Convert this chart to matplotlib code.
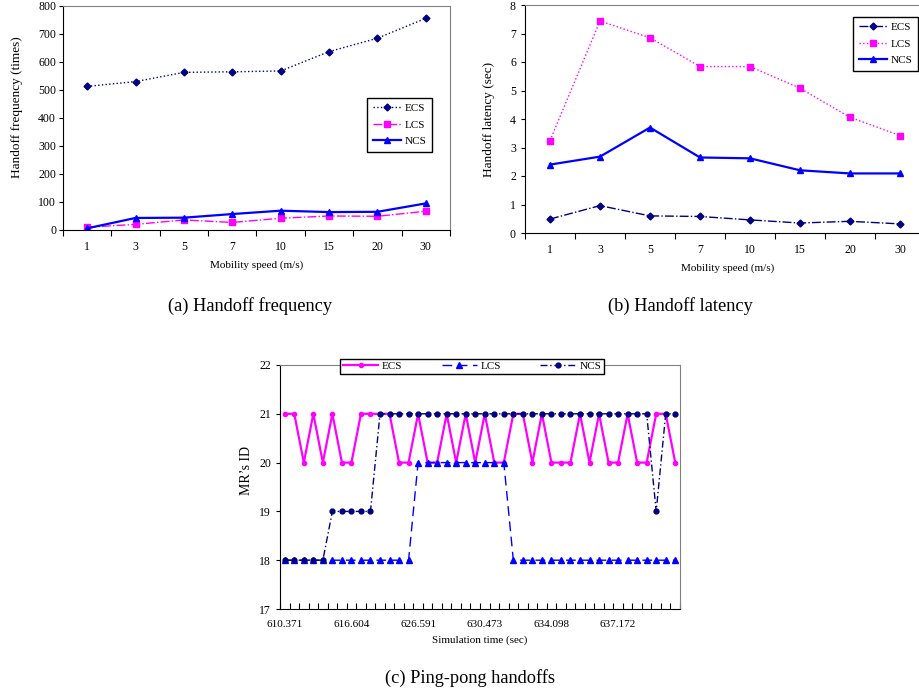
import matplotlib
matplotlib.use('Agg')
import matplotlib.pyplot as plt
import numpy as np

plt.rcParams['font.family'] = 'Liberation Serif'
plt.rcParams['axes.linewidth'] = 0.8

# ---- data ----
speeds = ['1', '3', '5', '7', '10', '15', '20', '30']

freq_ecs = [513, 530, 563, 565, 568, 637, 685, 756]
freq_lcs = [10, 20, 36, 27, 42, 50, 49, 67]
freq_ncs = [6, 43, 44, 57, 69, 64, 65, 95]

lat_ecs = [0.49, 0.96, 0.60, 0.58, 0.46, 0.35, 0.41, 0.32]
lat_lcs = [3.24, 7.44, 6.85, 5.84, 5.84, 5.08, 4.06, 3.42]
lat_ncs = [2.40, 2.68, 3.70, 2.65, 2.62, 2.20, 2.09, 2.09]

time_labels = ['610.371', '616.604', '626.591', '630.473', '634.098', '637.172']
pp_ecs = [21, 21, 20, 21, 20, 21, 20, 20, 21, 21, 21, 21, 20, 20,
          21, 20, 20, 21, 20, 21, 20, 21, 20, 20, 21, 21, 20, 21,
          20, 20, 20, 21, 20, 21, 20, 20, 21, 20, 20, 21, 21, 20]
pp_lcs = [18, 18, 18, 18, 18, 18, 18, 18, 18, 18, 18, 18, 18, 18,
          20, 20, 20, 20, 20, 20, 20, 20, 20, 20, 18, 18, 18, 18,
          18, 18, 18, 18, 18, 18, 18, 18, 18, 18, 18, 18, 18, 18]
pp_ncs = [18, 18, 18, 18, 18, 19, 19, 19, 19, 19, 21, 21, 21, 21,
          21, 21, 21, 21, 21, 21, 21, 21, 21, 21, 21, 21, 21, 21,
          21, 21, 21, 21, 21, 21, 21, 21, 21, 21, 21, 19, 21, 21]

NAVY = '#000080'
MAG = '#FF00FF'
BLUE = '#0000FF'
W, H = 920, 695

fig = plt.figure(figsize=(9.2, 6.95), dpi=100)


def box(l, t, r, b):
    return [l / W, 1 - b / H, (r - l) / W, (b - t) / H]


def cat_axis(ax, n, labels, label_pos):
    ax.set_xlim(-0.5, n - 0.5)
    ax.set_xticks(label_pos)
    ax.set_xticklabels(labels)
    ax.set_xticks(np.arange(-0.5, n, 1.0), minor=True)
    ax.tick_params(axis='x', which='major', length=0, pad=8)
    ax.tick_params(axis='x', which='minor', length=4, direction='out', width=0.8)
    ax.tick_params(axis='y', length=3, direction='out', width=0.8)
    for s in ['top', 'right']:
        ax.spines[s].set_color('#808080')


leg_kw = dict(frameon=True, fancybox=False, edgecolor='black', framealpha=1,
              borderaxespad=0, handletextpad=0.3, bbox_transform=fig.transFigure)

# (a) handoff frequency
ax1 = fig.add_axes(box(63, 6, 450, 230))
x = np.arange(len(speeds))
ax1.plot(x, freq_ecs, color=NAVY, ls=':', lw=1, marker='D', ms=3.5, label='ECS')
ax1.plot(x, freq_lcs, color=MAG, ls='-.', lw=1, marker='s', ms=4, label='LCS')
ax1.plot(x, freq_ncs, color=BLUE, ls='-', lw=1.6, marker='^', ms=4.5, label='NCS')
cat_axis(ax1, len(speeds), speeds, x)
ax1.set_ylim(0, 800)
ax1.set_yticks(range(0, 801, 100))
ax1.tick_params(labelsize=8.5)
ax1.tick_params(axis='y', pad=2)
ax1.set_xlabel('Mobility speed (m/s)', fontsize=8)
ax1.set_ylabel('Handoff frequency (times)', fontsize=9.5)
ax1.xaxis.set_label_coords(0.501, (230 - 260) / 224)
ax1.yaxis.set_label_coords((23 - 63) / 387, 0.547)
ax1.legend(loc='upper left', bbox_to_anchor=(367 / W, 1 - 98 / H), fontsize=8,
           handlelength=2.6, borderpad=0.5, labelspacing=0.6, **leg_kw)

# (b) handoff latency
ax2 = fig.add_axes(box(525, 5, 925, 233))
ax2.plot(x, lat_ecs, color=NAVY, ls='-.', lw=1, marker='D', ms=3.5, label='ECS')
ax2.plot(x, lat_lcs, color=MAG, ls=':', lw=1, marker='s', ms=4, label='LCS')
ax2.plot(x, lat_ncs, color=BLUE, ls='-', lw=1.6, marker='^', ms=4.5, label='NCS')
cat_axis(ax2, len(speeds), speeds, x)
ax2.set_ylim(0, 8)
ax2.set_yticks(range(0, 9))
ax2.tick_params(labelsize=8.5)
ax2.set_xlabel('Mobility speed (m/s)', fontsize=8)
ax2.set_ylabel('Handoff latency (sec)', fontsize=9.5)
ax2.xaxis.set_label_coords(0.506, (233 - 263) / 228)
ax2.yaxis.set_label_coords((495 - 525) / 400, 0.5)
ax2.legend(loc='upper left', bbox_to_anchor=(853 / W, 1 - 17 / H), fontsize=8,
           handlelength=2.6, borderpad=0.5, labelspacing=0.6, **leg_kw)

# (c) ping-pong handoffs
ax3 = fig.add_axes(box(280, 365, 680, 609))
t = np.arange(len(pp_ecs))
ax3.plot(t, pp_ecs, color=MAG, ls='-', lw=1.6, marker='o', ms=3, label='ECS')
ax3.plot(t, pp_lcs, color=BLUE, ls=(0, (7, 4)), lw=1, marker='^', ms=4, label='LCS')
ax3.plot(t, pp_ncs, color=NAVY, ls=(0, (5, 2, 1, 2)), lw=1, marker='o', ms=3.5, label='NCS')
cat_axis(ax3, len(pp_ecs), time_labels, t[::7][:len(time_labels)])
ax3.tick_params(axis='x', which='minor', direction='in', length=4)
ax3.set_ylim(17, 22)
ax3.set_yticks(range(17, 23))
ax3.tick_params(axis='x', labelsize=8)
ax3.tick_params(axis='y', labelsize=8.5)
ax3.set_xlabel('Simulation time (sec)', fontsize=8)
ax3.set_ylabel('MR\u2019s ID', fontsize=10)
ax3.xaxis.set_label_coords(0.5, (609 - 635) / 244)
ax3.yaxis.set_label_coords((253 - 280) / 400, 0.566)
ax3.legend(loc='lower left', bbox_to_anchor=(340 / W, 1 - 374 / H, 264 / W, 17 / H),
           mode='expand', ncol=3, fontsize=8, handlelength=3.2, borderpad=0.25,
           columnspacing=1.0, **leg_kw)

fig.text(250 / W, 1 - 306 / H, '(a) Handoff frequency', ha='center', va='center', fontsize=13.2)
fig.text(680 / W, 1 - 306 / H, '(b) Handoff latency', ha='center', va='center', fontsize=13.2)
fig.text(470 / W, 1 - 678 / H, '(c) Ping-pong handoffs', ha='center', va='center', fontsize=13.2)

fig.savefig('out.png', dpi=100)
